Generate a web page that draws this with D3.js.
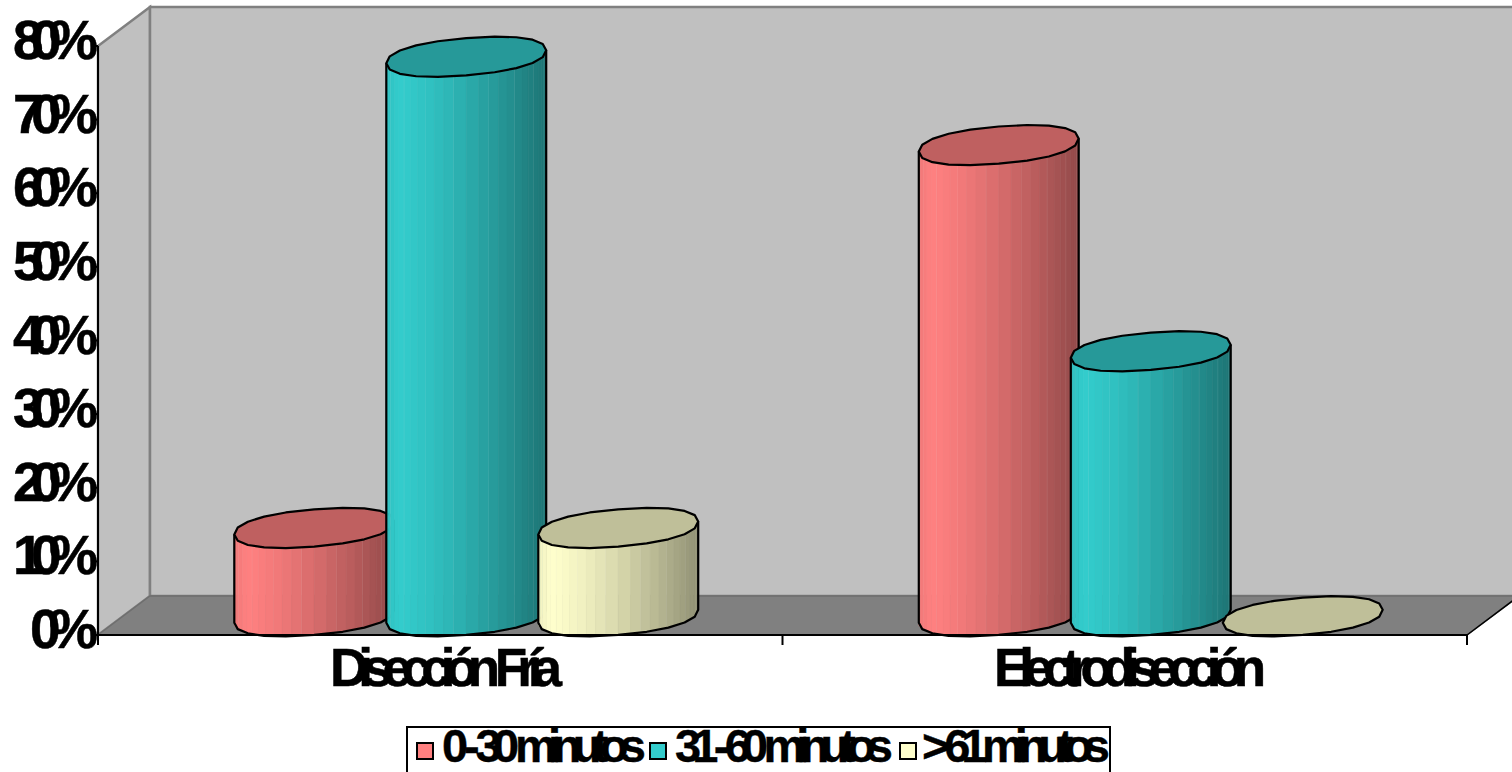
<!DOCTYPE html>
<html lang="es">
<head>
<meta charset="utf-8">
<title>Tiempo operatorio por técnica</title>
<script src="https://cdn.jsdelivr.net/npm/d3@7/dist/d3.min.js"></script>
<style>
  html, body { margin: 0; padding: 0; background: #fff; overflow: hidden; }
  svg { display: block; }
  text { font-family: "Liberation Sans", Arial, sans-serif; fill: #000; font-weight: 700; }
</style>
</head>
<body>
<svg id="chart" width="1512" height="772"></svg>
<script>
// Chart data
const categories = ["Disección Fría", "Electrodisección"];
const seriesNames = ["0 - 30 minutos", "31 - 60 minutos", "> 61 minutos"];
const seriesColors = ["#ff8080", "#33cccc", "#ffffcc"];
const valuesFria = [12, 76, 12];
const valuesElectro = [64, 36, 0];
const yTicks = [0, 10, 20, 30, 40, 50, 60, 70, 80];

const rows = [valuesFria, valuesElectro];

// Plot box: front plane plus the oblique depth of the 3D walls
const front = { left: 98, right: 1467, top: 46, bottom: 635 };
const depth = { x: 52, y: -39 };

const svg = d3.select("#chart");
const x0 = d3.scaleBand().domain(categories).range([front.left, front.right]);
const x1 = d3.scaleBand().domain(seriesNames).range([-228, 228]);
const y = d3.scaleLinear().domain([0, 80]).range([front.bottom, front.top]);

const poly = pts => "M" + pts.map(p => p.join(",")).join("L") + "Z";

// Walls and floor
const walls = svg.append("g");
walls.append("path")
  .attr("d", poly([[front.left, front.top], [front.left + depth.x, front.top + depth.y],
                   [front.left + depth.x, front.bottom + depth.y], [front.left, front.bottom]]))
  .attr("fill", "#c0c0c0").attr("stroke", "#808080").attr("stroke-width", 2.5);
walls.append("path")
  .attr("d", poly([[front.left + depth.x, front.top + depth.y], [front.right + depth.x, front.top + depth.y],
                   [front.right + depth.x, front.bottom + depth.y], [front.left + depth.x, front.bottom + depth.y]]))
  .attr("fill", "#c0c0c0").attr("stroke", "#808080").attr("stroke-width", 2.5);
walls.append("path")
  .attr("d", poly([[front.left, front.bottom], [front.left + depth.x, front.bottom + depth.y],
                   [front.right + depth.x, front.bottom + depth.y], [front.right, front.bottom]]))
  .attr("fill", "#808080").attr("stroke", "#6e6e6e").attr("stroke-width", 1.5);
// Floor edge that sits in front of the white page
walls.append("path")
  .attr("d", `M${front.right},${front.bottom}L${front.right + depth.x},${front.bottom + depth.y}`)
  .attr("stroke", "#000").attr("stroke-width", 1.5).attr("fill", "none");

// Cylinder geometry: a sheared, slightly squared ellipse for the caps, vertical facets for the body
const radius = x1.step() * 0.526;
const shear = 6.5;
const capHalf = 18.6;
const capFacets = 20;
const bodyFacets = 26;
const squared = (v, p) => Math.sign(v) * Math.pow(Math.abs(v), p);
const capPoint = (cx, cy, t) => {
  const c = squared(Math.cos(t), 0.88), s = squared(Math.sin(t), 0.88);
  return [cx + radius * c, cy - shear * c - capHalf * s];
};
const capPath = (cx, cy) =>
  poly(d3.range(capFacets).map(i => capPoint(cx, cy, i / capFacets * 2 * Math.PI)));

function drawCylinder(g, cx, value, color) {
  const baseY = y(0) + depth.y / 2 + 0.8;
  const topY = y(value) + depth.y / 2 + 0.8;
  const c = d3.rgb(color);
  const dark = d3.rgb(c.r * 0.57, c.g * 0.57, c.b * 0.57);
  const capFill = d3.rgb(c.r * 0.75, c.g * 0.75, c.b * 0.75);

  if (value > 0) {
    // Vertical strips across the front half, left to right
    for (let i = 0; i < bodyFacets; i++) {
      const a = Math.PI + (i / bodyFacets) * Math.PI;
      const b = Math.PI + ((i + 1) / bodyFacets) * Math.PI;
      const pa = capPoint(cx, topY, a), pb = capPoint(cx, topY, b);
      const qa = capPoint(cx, baseY, a), qb = capPoint(cx, baseY, b);
      const f = ((pa[0] + pb[0]) / 2 - (cx - radius)) / (2 * radius);
      const shade = f < 0.08
        ? d3.interpolateRgb(d3.rgb(c.r * 0.94, c.g * 0.94, c.b * 0.94), color)(f / 0.08)
        : d3.interpolateRgb(color, dark)(Math.pow((f - 0.08) / 0.92, 1.3));
      g.append("path")
        .attr("d", poly([pa, pb, qb, qa]))
        .attr("fill", shade).attr("stroke", shade).attr("stroke-width", 0.6);
      // Pale seam between some of the strips
      if (i % 3 === 2) {
        g.append("line").attr("x1", pb[0]).attr("x2", pb[0]).attr("y1", pb[1]).attr("y2", qb[1])
          .attr("stroke", "#fff").attr("stroke-opacity", 0.22).attr("stroke-width", 1);
      }
    }
    // Body outline
    const lower = d3.range(capFacets / 2 + 1).map(i => capPoint(cx, baseY, Math.PI + i / (capFacets / 2) * Math.PI));
    const outline = "M" + capPoint(cx, topY, Math.PI).join(",") + "L" +
      lower.map(p => p.join(",")).join("L") + "L" + capPoint(cx, topY, 0).join(",");
    g.append("path").attr("d", outline).attr("fill", "none")
      .attr("stroke", "#000").attr("stroke-width", 2.2).attr("stroke-linejoin", "round");
  }
  g.append("path").attr("d", capPath(cx, topY))
    .attr("fill", capFill).attr("stroke", "#000").attr("stroke-width", 2.2).attr("stroke-linejoin", "round");
}

const bars = svg.append("g");
categories.forEach((cat, ci) => {
  const center = x0(cat) + x0.bandwidth() / 2 + depth.x / 2;
  seriesNames.forEach((name, si) => {
    const cx = center + x1(name) + x1.bandwidth() / 2;
    drawCylinder(bars, cx, rows[ci][si], seriesColors[si]);
  });
});

// Axes
const axes = svg.append("g").attr("stroke", "#000").attr("stroke-width", 2).attr("fill", "none");
axes.append("line").attr("x1", front.left).attr("x2", front.left).attr("y1", y(80)).attr("y2", y(0) + 10);
axes.append("line").attr("x1", front.left).attr("x2", front.right).attr("y1", y(0)).attr("y2", y(0));
axes.selectAll(".ytick").data(yTicks).join("line").attr("class", "ytick")
  .attr("x1", front.left - 4).attr("x2", front.left).attr("y1", d => y(d)).attr("y2", d => y(d));
axes.selectAll(".xtick").data([front.left, front.left + x0.step(), front.right]).join("line").attr("class", "xtick")
  .attr("x1", d => d).attr("x2", d => d).attr("y1", y(0)).attr("y2", y(0) + 10);

// Tick labels, tightly tracked
svg.append("g").selectAll("text").data(yTicks).join("text")
  .attr("x", d => d === 0 ? 30 : 13)
  .attr("y", d => y(d) + 13)
  .attr("textLength", d => d === 0 ? 68 : 85)
  .attr("lengthAdjust", "spacing")
  .attr("font-size", 55)
  .attr("stroke", "#000").attr("stroke-width", 0.5)
  .text(d => d + "%");

// Category labels
const catLabelBox = [[330, 232], [994, 272]];
svg.append("g").selectAll("text").data(categories).join("text")
  .attr("x", (d, i) => catLabelBox[i][0])
  .attr("y", 686)
  .attr("textLength", (d, i) => catLabelBox[i][1])
  .attr("lengthAdjust", "spacing")
  .attr("font-size", 53)
  .attr("stroke", "#000").attr("stroke-width", 0.5)
  .text(d => d);

// Legend
const legend = svg.append("g");
legend.append("rect").attr("x", 407).attr("y", 727).attr("width", 703).attr("height", 60)
  .attr("fill", "#fff").attr("stroke", "#000").attr("stroke-width", 2);
const legendSwatch = [417, 650, 900];
const legendBox = [[442, 204], [675, 218], [922, 188]];
seriesNames.forEach((name, i) => {
  legend.append("rect").attr("x", legendSwatch[i]).attr("y", 743)
    .attr("width", 16).attr("height", 16)
    .attr("fill", seriesColors[i]).attr("stroke", "#000").attr("stroke-width", 2);
  legend.append("text").attr("x", legendBox[i][0]).attr("y", 762)
    .attr("textLength", legendBox[i][1]).attr("lengthAdjust", "spacing")
    .attr("font-size", 47)
    .attr("stroke", "#000").attr("stroke-width", 0.4)
    .text(name);
});
</script>
</body>
</html>
